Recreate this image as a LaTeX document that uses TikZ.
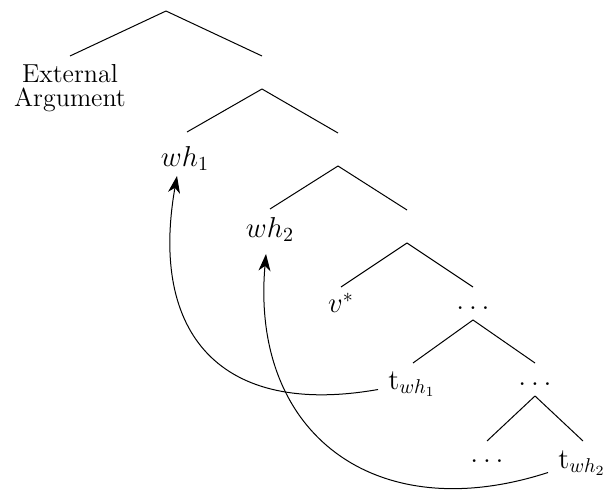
\documentclass[tikz,border=0pt]{standalone}
\usetikzlibrary{arrows.meta,calc}
\begin{document}
\begin{tikzpicture}[x=0.5pt,y=-0.5pt,line width=0.5pt,
  font=\fontsize{13}{12}\selectfont,
  mth/.style={font=\fontsize{14.5}{14}\selectfont},
  leaf/.style={anchor=north,inner sep=0pt,text depth=0.25em},
  inner/.style={anchor=north,inner sep=0pt,minimum height=16pt,text height=10.5pt,text depth=5pt},
  mv/.style={-{Stealth[length=8.5pt,width=6pt,inset=2.5pt]}}]
\useasboundingbox (0,0) rectangle (606,492);
\coordinate (r) at (166,11);
\node[anchor=north,inner xsep=0pt,inner ysep=4pt,align=center] (ea) at (70,56) {External\\Argument};
\node[inner] (a1) at (262,56) {};
\node[leaf,mth,text height=17pt] (wh1) at (185,132) {$wh_1$};
\node[inner] (a2) at (338,133) {};
\node[leaf,mth,text height=14pt] (wh2) at (270,209) {$wh_2$};
\node[inner] (a3) at (407,210) {};
\node[leaf,mth,text height=12.5pt] (v) at (341,287) {$v^*$};
\node[inner,mth] (d1) at (473,287) {$\ldots$};
\node[leaf,mth,text height=13pt] (t1) at (412,363) {$\mathrm{t}_{wh_1}$};
\node[inner,mth,text height=11pt] (d2) at (535,363) {$\ldots$};
\node[leaf,mth,text height=10.5pt] (d3) at (487,441) {$\ldots$};
\node[leaf,mth,text height=13.5pt] (t2) at (582,441) {$\mathrm{t}_{wh_2}$};
\draw (r) -- (ea.north);
\draw (r) -- (a1.north);
\draw (a1.south) -- ([xshift=1pt]wh1.north);
\draw (a1.south) -- (a2.north);
\draw (a2.south) -- (wh2.north);
\draw (a2.south) -- (a3.north);
\draw (a3.south) -- (v.north);
\draw (a3.south) -- (d1.north);
\draw (d1.south) -- ([xshift=0.5pt]t1.north);
\draw (d1.south) -- (d2.north);
\draw (d2.south) -- (d3.north);
\draw (d2.south) -- ([xshift=0.5pt]t2.north);
\draw[mv] ($(t1.base)+(-34,0)$) to[out=190,in=-100,looseness=1.4] ($(wh1.south)+(-8,4)$);
\draw[mv] ($(t2.base)+(-34,4)$) to[out=198,in=-95,looseness=1.3] ($(wh2.south)+(-4,11)$);
\end{tikzpicture}
\end{document}
